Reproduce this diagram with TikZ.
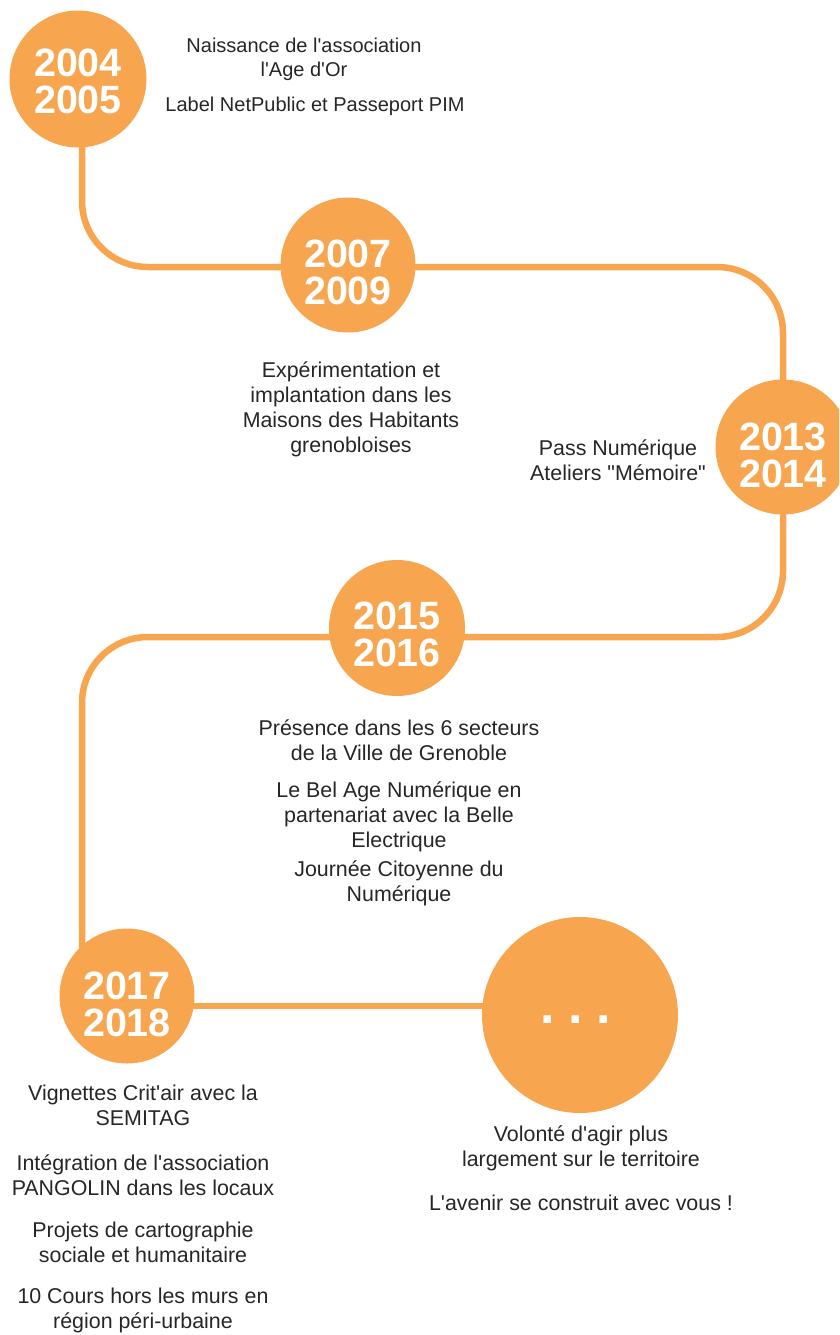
\documentclass[tikz,border=0pt]{standalone}
\usepackage{fontspec}
\newfontfamily\bodyfont[Ligatures=TeXOff]{Liberation Sans}
\usetikzlibrary{calc,backgrounds}
\definecolor{tlorange}{HTML}{F7A64F}
\definecolor{tltext}{HTML}{262626}
\tikzset{
  yearcircle/.style={circle, fill=tlorange, inner sep=0pt, minimum size=#1},
  yeartext/.style={inner sep=0pt, text=white, align=center,
    font=\bodyfont\bfseries\fontsize{39.5}{37}\selectfont},
  conn/.style={draw=tlorange, line width=6.5pt, rounded corners=66pt},
  desc/.style={align=center, anchor=base, inner sep=0pt, text=tltext,
    font=\bodyfont\fontsize{21.4}{24.8}\selectfont},
  desctop/.style={desc, font=\bodyfont\fontsize{20}{24.5}\selectfont},
}
\begin{document}
\begin{tikzpicture}[x=1pt,y=-1pt]
\useasboundingbox (0,0) rectangle (839,1335);
\clip (0,0) rectangle (839,1335);
% circles
\node[yearcircle=137pt] (c1) at (78,79) {};
\node[yearcircle=135pt] (c2) at (348,265) {};
\node[yearcircle=135pt] (c3) at (783,447) {};
\node[yearcircle=136pt] (c4) at (397,628) {};
\node[yearcircle=135pt] (c5) at (127,996) {};
\node[yearcircle=196pt] (c6) at (580,1015) {};
\node[yeartext] (y1) at ($(c1.center)+(0,2)$) {2004\\2005};
\node[yeartext] (y2) at ($(c2.center)+(0,7)$) {2007\\2009};
\node[yeartext] (y3) at ($(c3.center)+(0,8)$) {2013\\2014};
\node[yeartext] (y4) at ($(c4.center)+(0,6)$) {2015\\2016};
\node[yeartext] (y5) at ($(c5.center)+(0,8)$) {2017\\2018};
\node[anchor=base, inner sep=0pt, text=white, font=\bodyfont\bfseries\fontsize{52}{52}\selectfont] (dots) at (575.5,1023) {.\hspace{13.5pt}.\hspace{13.5pt}.};
% connectors
\begin{scope}[on background layer]
\draw[conn] ($(c1.center)+(4,0)$) |- ($(c2.center)+(0,2)$) -| (c3.center)
  |- ($(c4.center)+(0,9)$) -| ($(c5.center)+(-45,0)$);
\draw[conn] ($(c5.center)+(0,10)$) -- ($(c6.center)+(0,-9)$);
\end{scope}
% texts (anchor = baseline of last line)
\node[desctop] (t1a) at (304,77) {Naissance de l'association\\l'Age d'Or};
\node[desctop] (t1b) at (315,112) {Label NetPublic et Passeport PIM};
\node[desc] (t2) at (351,452) {Expérimentation et\\implantation dans les\\Maisons des Habitants\\grenobloises};
\node[desc] (t3) at (618,480) {Pass Numérique\\Ateliers "Mémoire"};
\node[desc] (t4a) at (399,760) {Présence dans les 6 secteurs\\de la Ville de Grenoble};
\node[desc] (t4b) at (399,847) {Le Bel Age Numérique en\\partenariat avec la Belle\\Electrique};
\node[desc] (t4c) at (399,901) {Journée Citoyenne du\\Numérique};
\node[desc] (t5a) at (143,1125) {Vignettes Crit'air avec la\\SEMITAG};
\node[desc] (t5b) at (143,1195) {Intégration de l'association\\PANGOLIN dans les locaux};
\node[desc] (t5c) at (143,1262) {Projets de cartographie\\sociale et humanitaire};
\node[desc] (t5d) at (143,1328) {10 Cours hors les murs en\\région péri-urbaine};
\node[desc] (t6a) at (581,1166) {Volonté d'agir plus\\largement sur le territoire};
\node[desc] (t6b) at (581,1210) {L'avenir se construit avec vous !};
\end{tikzpicture}
\end{document}
